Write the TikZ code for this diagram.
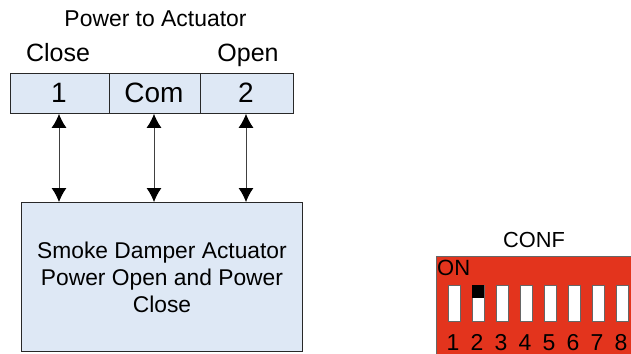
\documentclass[tikz,border=0pt]{standalone}
\usepackage{fontspec}
\setmainfont{Liberation Sans}
\definecolor{boxblue}{RGB}{222,232,245}
\definecolor{confred}{RGB}{227,52,29}
\definecolor{edge}{RGB}{40,40,40}
\usetikzlibrary{arrows.meta}
\tikzset{
  cell/.style={draw=edge,fill=boxblue,line width=0.9pt,minimum height=40pt,inner sep=0pt,anchor=north west},
  celltext/.style={inner sep=0pt,anchor=base,font=\fontsize{28}{28}\selectfont},
  lbl/.style={inner sep=0pt,anchor=base,font=\fontsize{25}{25}\selectfont},
  num/.style={inner sep=0pt,anchor=base,font=\fontsize{23}{23}\selectfont},
  link/.style={draw=black!75,line width=0.9pt,{Latex[length=14pt,width=15pt,black]}-{Latex[length=14pt,width=15pt,black]}},
  sw/.style={draw=black!60,fill=white,line width=0.8pt,minimum width=12.5pt,minimum height=36pt,inner sep=0pt,anchor=north west},
}
\begin{document}
\begin{tikzpicture}[x=1pt,y=-1pt]
\useasboundingbox (0,0) rectangle (631,353);
\node[lbl,font=\fontsize{22.9}{22.9}\selectfont] (title) at (155.5,27) {Power to Actuator};
\node[lbl] (close) at (58,62) {Close};
\node[lbl] (open) at (248,62) {Open};
\node[cell,minimum width=99pt] (c1) at (9.5,73) {};
\node[cell,minimum width=91.5pt] (com) at (108.5,73) {};
\node[cell,minimum width=93pt] (c2) at (200,73) {};
\node[celltext] (t1) at (59,102) {1};
\node[celltext] (tcom) at (154,102) {Com};
\node[celltext] (t2) at (246,102) {2};
\node[draw=edge,fill=boxblue,line width=0.9pt,minimum width=281pt,minimum height=149pt,inner sep=0pt,anchor=north west,align=center,font=\fontsize{22.8}{27}\selectfont] (act) at (21,202) {Smoke Damper Actuator\\Power Open and Power\\Close};
\coordinate (a1) at (59,202);\coordinate (a2) at (154,202);\coordinate (a3) at (246,202);
\draw[link] (c1.south -| a1) -- (a1);
\draw[link] (com.south -| a2) -- (a2);
\draw[link] (c2.south -| a3) -- (a3);
\node[inner sep=0pt,anchor=base,font=\fontsize{21.8}{21.8}\selectfont] (conf) at (534,247) {CONF};
\node[draw=black!60,fill=confred,line width=0.8pt,minimum width=196pt,minimum height=98pt,inner sep=0pt,anchor=north west] (red) at (436,255.5) {};
\node[inner sep=0pt,anchor=base west,font=\fontsize{22}{22}\selectfont] (on) at (437,275) {ON};
\foreach \i in {1,...,8}{
  \node[sw] (s\i) at ({447.5+24*(\i-1)},285) {};
  \node[num] (n\i) at ({453+24*(\i-1)},350) {\i};
}
\node[fill=black,minimum width=12.5pt,minimum height=12.5pt,inner sep=0pt,anchor=north] (k) at (s2.north) {};
\end{tikzpicture}
\end{document}
